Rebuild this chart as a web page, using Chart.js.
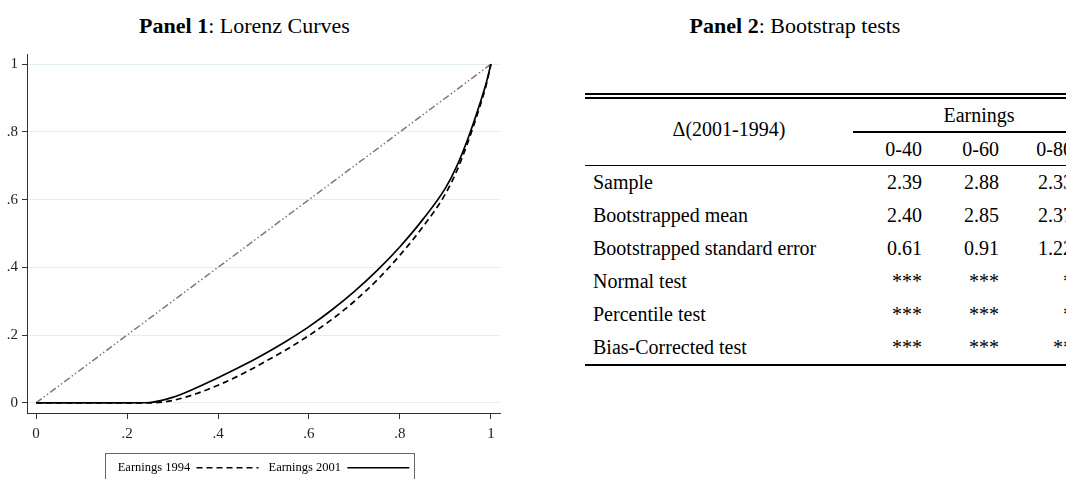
<!DOCTYPE html>
<html>
<head>
<meta charset="utf-8">
<script src="https://cdn.jsdelivr.net/npm/chart.js@4.4.0/dist/chart.umd.min.js"></script>
<style>
  html, body { margin: 0; padding: 0; background: #fff; }
  body { width: 1066px; height: 479px; overflow: hidden; position: relative;
         font-family: "Liberation Serif", "Times New Roman", serif; color: #000; }
  .title { position: absolute; top: 15px; font-size: 22px; line-height: 22px; text-align: center; }
  #lorenzBox { position: absolute; left: 0; top: 0; width: 520px; height: 484px; }
  #tbl { position: absolute; left: 585px; top: 93px; width: 488px; table-layout: fixed;
         border-collapse: separate; border-spacing: 0; font-size: 20px;
         border-top: 6px double #000; border-bottom: 2px solid #000; }
  #tbl th, #tbl td { padding: 0; font-weight: normal; white-space: nowrap; }
  #tbl th.delta { vertical-align: middle; text-align: center; padding-left: 28px; padding-bottom: 5px;
                  border-bottom: 1px solid #000; }
  #tbl th.grp { height: 34px; vertical-align: bottom; }
  #tbl th.grp div { margin-left: 8px; margin-right: -32px; border-bottom: 2px solid #000;
                    line-height: 32px; text-align: center; }
  #tbl tr.sub th { height: 32px; line-height: 32px; text-align: right; border-bottom: 1px solid #000; }
  #tbl td { height: 33px; line-height: 33px; text-align: right; }
  #tbl td.lab { text-align: left; padding-left: 8px; }
</style>
</head>
<body>
<div class="title" style="left:0;width:489px;"><b>Panel 1</b>: Lorenz Curves</div>
<div class="title" style="left:545px;width:500px;"><b>Panel 2</b>: Bootstrap tests</div>
<div id="lorenzBox"><canvas id="lorenz"></canvas></div>
<table id="tbl">
  <colgroup><col style="width:260px"><col style="width:77px"><col style="width:77px"><col style="width:74px"></colgroup>
  <thead>
    <tr><th rowspan="2" class="delta">Δ(2001-1994)</th><th colspan="3" class="grp"><div>Earnings</div></th></tr>
    <tr class="sub" id="subHead"></tr>
  </thead>
  <tbody id="tblBody"></tbody>
</table>
<script>
// Lorenz curves (population share -> earnings share)
var popShare = [0, 0.1, 0.2, 0.25, 0.3, 0.35, 0.4, 0.45, 0.5, 0.55, 0.6, 0.65, 0.7, 0.75, 0.8, 0.85, 0.9, 0.925, 0.95, 0.975, 0.99, 1];
var earnings1994 = [0, 0, 0, 0, 0.007, 0.026, 0.052, 0.083, 0.119, 0.157, 0.199, 0.246, 0.3, 0.363, 0.436, 0.519, 0.617, 0.685, 0.772, 0.872, 0.94, 1];
var earnings2001 = [0, 0, 0, 0.001, 0.016, 0.043, 0.074, 0.107, 0.143, 0.182, 0.225, 0.274, 0.329, 0.391, 0.461, 0.541, 0.634, 0.699, 0.782, 0.88, 0.946, 1];
var equalityX = [0, 1];
var equalityY = [0, 1];
var tickValues = [0, 0.2, 0.4, 0.6, 0.8, 1];
var tickLabels = ['0', '.2', '.4', '.6', '.8', '1'];

// bootstrap table
var groupCols = ['0-40', '0-60', '0-80'];
var rowLabels = ['Sample', 'Bootstrapped mean', 'Bootstrapped standard error', 'Normal test', 'Percentile test', 'Bias-Corrected test'];
var col040 = ['2.39', '2.40', '0.61', '***', '***', '***'];
var col060 = ['2.88', '2.85', '0.91', '***', '***', '***'];
var col080 = ['2.33', '2.37', '1.22', '*', '*', '**'];

var serif = '"Liberation Serif", "Times New Roman", serif';
Chart.defaults.font.family = serif;

function pts(xs, ys) {
  return xs.map(function (x, i) { return { x: x, y: ys[i] }; });
}

function fmt(v) {
  var i = tickValues.indexOf(v);
  return i >= 0 ? tickLabels[i] : '';
}

// frame round the legend, open at the bottom edge of the picture
var legendFrame = {
  id: 'legendFrame',
  afterDraw: function (chart) {
    var lg = chart.legend;
    if (!lg || !lg.legendHitBoxes || !lg.legendHitBoxes.length) return;
    var boxes = lg.legendHitBoxes;
    var left = Math.min.apply(null, boxes.map(function (b) { return b.left; })) - 13;
    var right = Math.max.apply(null, boxes.map(function (b) { return b.left + b.width; })) + 4;
    var top = boxes[0].top + boxes[0].height / 2 - 15;
    var ctx = chart.ctx;
    ctx.save();
    ctx.setLineDash([]);
    ctx.strokeStyle = '#666';
    ctx.lineWidth = 1;
    ctx.strokeRect(Math.round(left) + 0.5, Math.round(top) + 0.5, Math.round(right - left), chart.height - top + 10);
    ctx.restore();
  }
};

new Chart(document.getElementById('lorenz').getContext('2d'), {
  type: 'line',
  data: {
    datasets: [{
        label: 'Earnings 1994',
        data: pts(popShare, earnings1994),
        borderColor: '#000',
        borderWidth: 1.7,
        borderDash: [6, 4],
        pointRadius: 0,
        cubicInterpolationMode: 'monotone',
        fill: false
      },
      {
        label: 'Earnings 2001',
        data: pts(popShare, earnings2001),
        borderColor: '#000',
        borderWidth: 1.7,
        pointRadius: 0,
        cubicInterpolationMode: 'monotone',
        fill: false
      },
      {
        label: 'Equality',
        data: pts(equalityX, equalityY),
        borderColor: '#7a7a7a',
        borderWidth: 1.5,
        borderDash: [7, 2.5, 1.5, 2.5, 1.5, 2.5],
        pointRadius: 0,
        fill: false
      }
    ]
  },
  options: {
    responsive: true,
    maintainAspectRatio: false,
    animation: false,
    layout: { padding: { top: 54, right: 20, left: 0, bottom: 0 } },
    plugins: {
      tooltip: { enabled: false },
      legend: {
        position: 'bottom',
        fullSize: false,
        rtl: true,
        reverse: true,
        labels: {
          usePointStyle: true,
          pointStyle: 'line',
          pointStyleWidth: 62,
          padding: 10,
          color: '#000',
          font: { family: serif, size: 12.5 },
          generateLabels: function (chart) {
            var items = Chart.defaults.plugins.legend.labels.generateLabels(chart);
            items.forEach(function (it) {
              var ds = chart.data.datasets[it.datasetIndex];
              it.lineDash = ds.borderDash || [];
              it.lineWidth = 1.4;
              it.strokeStyle = ds.borderColor;
            });
            return items;
          },
          filter: function (item) { return item.datasetIndex < 2; }
        }
      }
    },
    scales: {
      x: {
        type: 'linear',
        min: -0.02,
        max: 1.02,
        afterBuildTicks: function (s) { s.ticks = tickValues.map(function (v) { return { value: v }; }); },
        afterFit: function (s) { s.height = 38.5; },
        grid: { drawOnChartArea: false, drawTicks: true, tickLength: 6, tickColor: '#333', tickWidth: 1 },
        border: { display: true, color: '#333', width: 1 },
        ticks: { callback: fmt, padding: 6, color: '#222', font: { size: 15 }, maxRotation: 0, autoSkip: false }
      },
      y: {
        type: 'linear',
        min: -0.03,
        max: 1.03,
        afterBuildTicks: function (s) { s.ticks = tickValues.map(function (v) { return { value: v }; }); },
        afterFit: function (s) { s.width = 27; },
        grid: { color: '#e3eef1', lineWidth: 1, drawTicks: true, tickLength: 5, tickColor: '#333', tickWidth: 1 },
        border: { display: true, color: '#333', width: 1 },
        ticks: { callback: fmt, padding: 4, color: '#222', font: { size: 15 } }
      }
    }
  },
  plugins: [legendFrame]
});

// table body from the arrays
var sub = document.getElementById('subHead');
groupCols.forEach(function (c) {
  var th = document.createElement('th');
  th.textContent = c;
  sub.appendChild(th);
});
var body = document.getElementById('tblBody');
rowLabels.forEach(function (lab, i) {
  var tr = document.createElement('tr');
  var cells = [lab, col040[i], col060[i], col080[i]];
  cells.forEach(function (txt, j) {
    var td = document.createElement('td');
    td.textContent = txt;
    if (j === 0) td.className = 'lab';
    tr.appendChild(td);
  });
  body.appendChild(tr);
});
</script>
</body>
</html>
